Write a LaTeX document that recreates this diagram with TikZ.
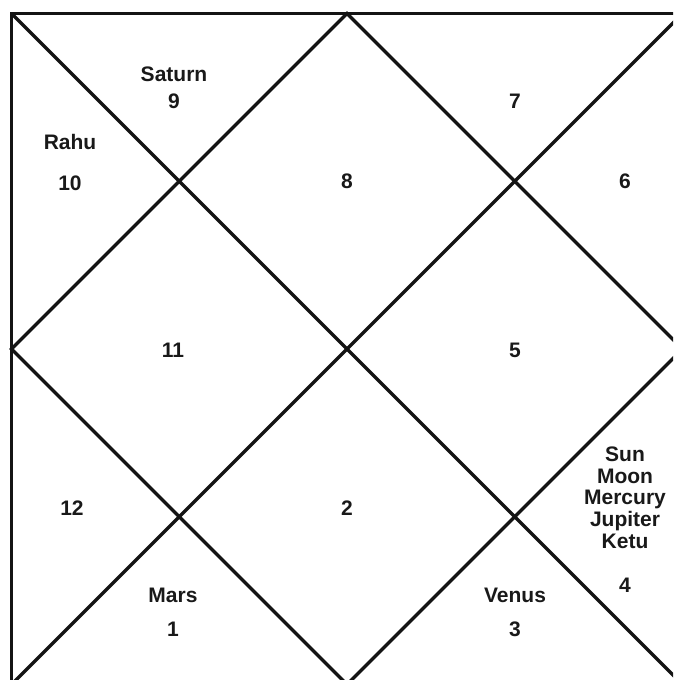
\documentclass[tikz,border=0pt]{standalone}
\usepackage{fontspec}
\setmainfont{Liberation Sans}
\begin{document}
\begin{tikzpicture}[x=1pt, y=-1pt,
  chart/.style={line width=3.2pt, draw=black!92},
  lbl/.style={font=\fontsize{21}{21.6}\selectfont\bfseries, text=black!90, anchor=base, inner sep=0pt}]
\useasboundingbox (0,0) rectangle (673,680);
\clip (0,0) rectangle (673,680);
% frame corners and side midpoints
\coordinate (nw) at (11.5,13.5);
\coordinate (ne) at (682.5,13.5);
\coordinate (sw) at (11.5,684.5);
\coordinate (se) at (682.5,684.5);
\coordinate (n) at (347,13.5);
\coordinate (e) at (682.5,349);
\coordinate (s) at (347,684.5);
\coordinate (w) at (11.5,349);
% outer frame and diagonals
\draw[chart] (nw) rectangle (se);
\draw[chart] (nw) -- (se);
\draw[chart] (ne) -- (sw);
% inner diamond
\draw[chart] (n) -- (e) -- (s) -- (w) -- cycle;
% house numbers
\foreach \name/\x/\y/\num in {h1/173/636/1, h2/347/515/2, h3/515/636/3, h4/625/592/4,
  h5/515/357/5, h6/625/188/6, h7/515/108/7, h8/347/188/8, h9/174/108/9,
  h10/70/190/10, h11/173/357/11, h12/72/515/12}
  \node[lbl] (\name) at (\x,\y) {\num};
% planets
\node[lbl] (saturn) at (174,81) {Saturn};
\node[lbl] (rahu) at (70,149) {Rahu};
\node[lbl] (mars) at (173,602) {Mars};
\node[lbl] (venus) at (515,602) {Venus};
\foreach \p [count=\k] in {Sun,Moon,Mercury,Jupiter,Ketu}
  \node[lbl] (p4\k) at (625,440+21.6*\k) {\p};
\end{tikzpicture}
\end{document}
